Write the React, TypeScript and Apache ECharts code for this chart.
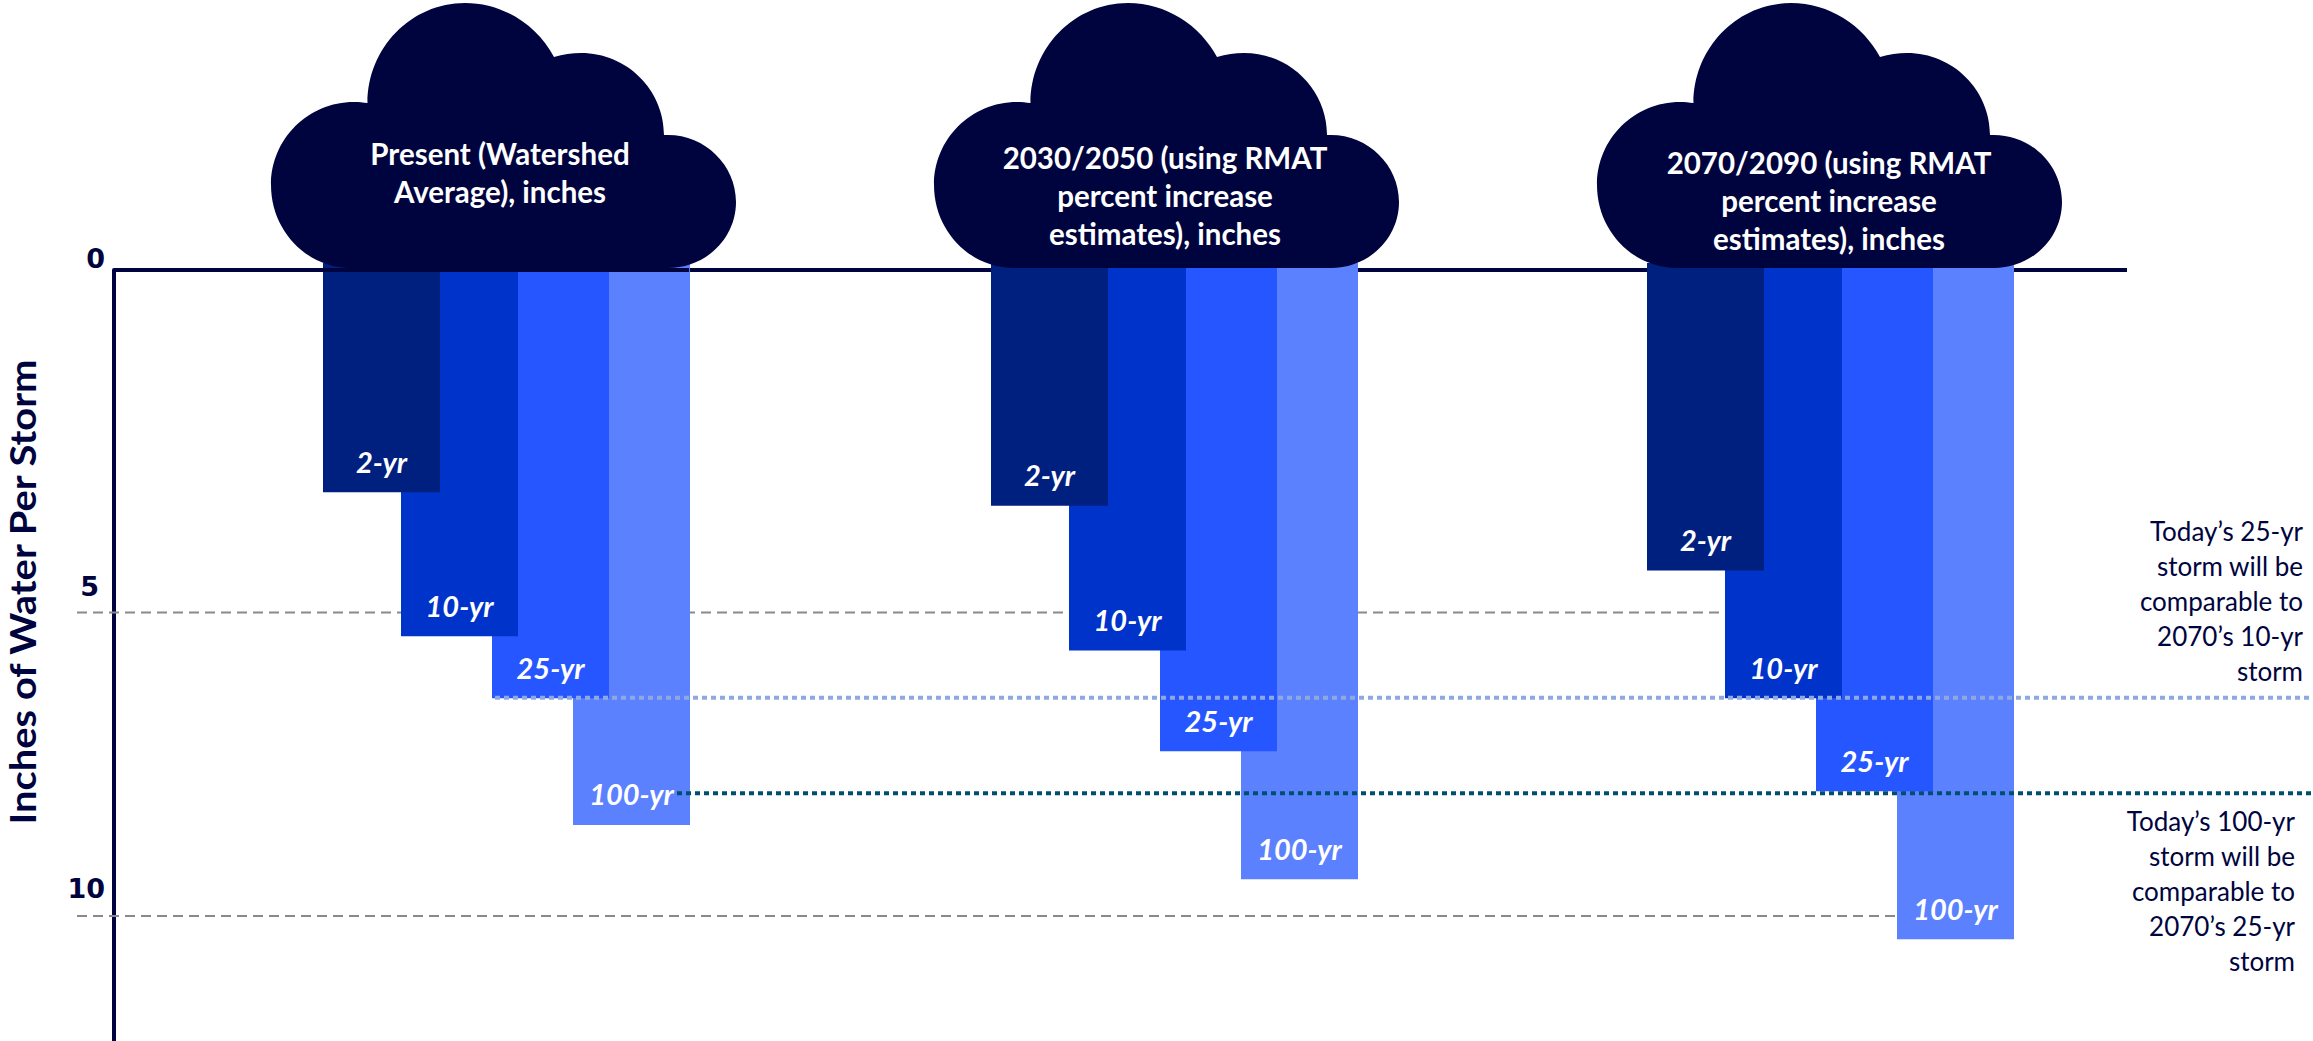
import React, { useEffect, useRef } from "react";
import * as echarts from "echarts";

// Storm depth in inches for each planning horizon
const horizons = [
  "Present (Watershed\nAverage), inches",
  "2030/2050 (using RMAT\npercent increase\nestimates), inches",
  "2070/2090 (using RMAT\npercent increase\nestimates), inches",
];
const stormNames = ["2-yr", "10-yr", "25-yr", "100-yr"];
const twoYear = [3.44, 3.65, 4.65];
const tenYear = [5.67, 5.89, 6.63];
const twentyFiveYear = [6.63, 7.45, 8.07];
const hundredYear = [8.59, 9.43, 10.36];
const yTicks = [0, 5, 10];
const dashedLevels = [5.3, 10];
const lightDottedLevel = 6.62;
const darkDottedLevel = 8.1;
const yTitle = "Inches of Water Per Storm";
const note25 = "Today\u2019s 25-yr\nstorm will be\ncomparable to\n2070\u2019s 10-yr\nstorm";
const note100 = "Today\u2019s 100-yr\nstorm will be\ncomparable to\n2070\u2019s 25-yr\nstorm";

// Layout, in page pixels (the hidden x axis runs 1:1 with the page)
const W = 2313;
const H = 1041;
const GROUP_X = [323, 991, 1647];
const BAR_OFFSET = [0, 78, 169, 250];
const BAR_WIDTH = 117;
const BAR_LIFT = 7;
const COLORS = ["#00207F", "#0033C9", "#2656FF", "#5C81FF"];
const NAVY = "#00043E";
const FONT = "Lato";
const GRID_TOP = 270;
const AXIS_MAX = 11.935;
const CLOUD_X = [271, 934, 1597];
const CLOUD_TEXT = [
  { x: 500, y: 172 },
  { x: 1165, y: 195 },
  { x: 1829, y: 200 },
];

const CLOUD_PATH =
  "M80 265C36 265 0 228 0 182C0 136 37 99 83 99C88 99 92 99.5 96.5 100" +
  "C96.5 45 140 0 194 0C232 0 266 22 283 54C292 51.5 301 50 310 50" +
  "C356 50 393 87 393 132L397 132C434 132 465 162 465 199" +
  "C465 236 434 265 397 265Z";

echarts.graphic.registerShape("stormCloud", echarts.graphic.extendPath(CLOUD_PATH, {}));

const ruleLine = (
  name: string,
  from: number,
  to: number,
  level: number,
  color: string,
  width: number,
  dash: number[] | "solid",
  z: number,
) => ({
  name,
  type: "line",
  z,
  clip: false,
  silent: true,
  symbol: "none",
  data: [
    [from, level],
    [to, level],
  ],
  lineStyle: { color, width, type: dash, cap: "butt" },
});

const stormSeries = (stormIndex: number, values: number[]) => ({
  name: stormNames[stormIndex],
  type: "custom",
  z: 3 + (3 - stormIndex),
  clip: false,
  data: values.map((v, i) => [i, v]),
  renderItem: (_params: any, api: any) => {
    const group = api.value(0);
    const left = GROUP_X[group] + BAR_OFFSET[stormIndex];
    const [x0, yTop] = api.coord([left, 0]);
    const [, yBottom] = api.coord([left, api.value(1)]);
    return {
      type: "group",
      children: [
        {
          type: "rect",
          shape: { x: x0, y: yTop - BAR_LIFT, width: BAR_WIDTH, height: yBottom - yTop + BAR_LIFT },
          style: { fill: COLORS[stormIndex] },
        },
        {
          type: "text",
          style: {
            text: stormNames[stormIndex],
            x: x0 + BAR_WIDTH / 2,
            y: yBottom - 31,
            align: "center",
            verticalAlign: "middle",
            fill: "#FFFFFF",
            fontFamily: FONT,
            fontSize: 29,
            fontWeight: "bold",
            fontStyle: "italic",
          },
        },
      ],
    };
  },
});

const tickStyle = { fontFamily: "DejaVu Sans", fontWeight: "bold" as const, fontSize: 27, color: NAVY };

export default function App() {
  const ref = useRef<HTMLDivElement>(null);

  useEffect(() => {
    const chart = echarts.init(ref.current!, undefined, { renderer: "svg" });
    chart.setOption({
      animation: false,
      backgroundColor: "#FFFFFF",
      grid: { left: 0, top: GRID_TOP, right: 0, bottom: 0 },
      xAxis: { type: "value", min: 0, max: W, show: false },
      yAxis: {
        type: "value",
        inverse: true,
        min: 0,
        max: AXIS_MAX,
        interval: 5,
        offset: -114,
        splitLine: { show: false },
        axisTick: { show: false },
        axisLine: { show: true, onZero: false, lineStyle: { color: NAVY, width: 4 } },
        axisLabel: {
          customValues: yTicks,
          margin: 9,
          formatter: (v: number) => (v === 0 ? `{a|${v}}` : v === 5 ? `{b|${v}}` : `{c|${v}}`),
          rich: {
            a: { ...tickStyle, padding: [0, 0, 24, 0] },
            b: { ...tickStyle, padding: [0, 6, 12, 0] },
            c: { ...tickStyle, padding: [0, 0, 54, 0] },
          },
        },
      },
      series: [
        ruleLine("baseline", 114, 2127, 0, NAVY, 4, "solid", 1),
        ruleLine("level a", 77, 1724, dashedLevels[0], "#8A8A8A", 2, [10, 6], 2),
        ruleLine("level b", 77, 1897, dashedLevels[1], "#8A8A8A", 2, [10, 6], 2),
        stormSeries(3, hundredYear),
        stormSeries(2, twentyFiveYear),
        stormSeries(1, tenYear),
        stormSeries(0, twoYear),
        ruleLine("baseline over present", 323, 689, 0, NAVY, 4, "solid", 8),
        ruleLine("25-yr today", 495, W, lightDottedLevel, "#8FA9E0", 4, [5, 4], 9),
        ruleLine("100-yr today", 677, W, darkDottedLevel, "#004F6E", 4, [5, 4], 9),
      ],
      graphic: [
        ...CLOUD_X.map((x) => ({
          type: "stormCloud",
          x,
          y: 3,
          z: 100,
          style: { fill: NAVY },
        })),
        ...horizons.map((text, i) => ({
          type: "text",
          z: 101,
          style: {
            text,
            x: CLOUD_TEXT[i].x,
            y: CLOUD_TEXT[i].y,
            align: "center",
            verticalAlign: "middle",
            fill: "#FFFFFF",
            fontFamily: FONT,
            fontWeight: "bold",
            fontSize: 29.5,
            lineHeight: 38,
          },
        })),
        {
          type: "text",
          z: 101,
          x: 22,
          y: 592,
          rotation: Math.PI / 2,
          scaleX: 1.11,
          style: {
            text: yTitle,
            x: 0,
            y: 0,
            align: "center",
            verticalAlign: "middle",
            fill: NAVY,
            fontFamily: FONT,
            fontWeight: "bold",
            fontSize: 36,
          },
        },
        {
          type: "text",
          z: 101,
          style: {
            text: note25,
            x: 2303,
            y: 601,
            align: "right",
            verticalAlign: "middle",
            fill: NAVY,
            fontFamily: FONT,
            fontSize: 26,
            lineHeight: 35,
          },
        },
        {
          type: "text",
          z: 101,
          style: {
            text: note100,
            x: 2295,
            y: 891,
            align: "right",
            verticalAlign: "middle",
            fill: NAVY,
            fontFamily: FONT,
            fontSize: 26,
            lineHeight: 35,
          },
        },
      ],
    });
    return () => chart.dispose();
  }, []);

  return <div ref={ref} style={{ position: "absolute", left: 0, top: 0, width: W, height: H }} />;
}
